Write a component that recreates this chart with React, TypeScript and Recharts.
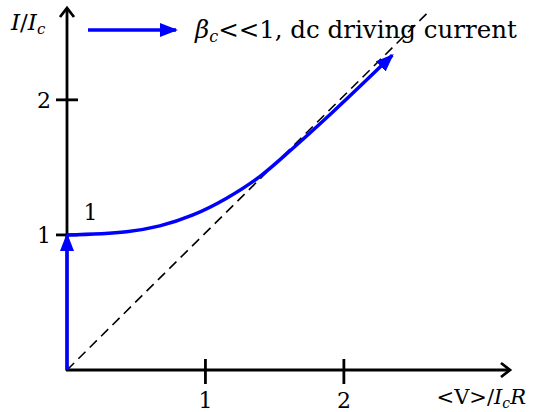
import React from "react";
import { LineChart, Line, XAxis, YAxis, ReferenceLine, ReferenceDot, Legend } from "recharts";

const W = 534;
const H = 412;
const BLUE = "#0000FF";
const FONT = "DejaVu Serif";

// reduced voltage <V>/IcR and reduced current I/Ic on the running branch
const runV = [0, 0.43, 0.67, 0.91, 1.15, 1.39, 1.63, 1.92, 2.35];
const runI = [1.0, 1.024, 1.067, 1.148, 1.27, 1.43, 1.64, 1.91, 2.33];
// supercurrent branch (zero voltage)
const zeroV = [0, 0];
const zeroI = [0, 1];
// ohmic asymptote I = V/R
const ohmV = [0, 2.62];
const ohmI = [0, 2.66];

const xTicks = [1, 2];
const yTicks = [1, 2];
const xMax = 3.2;
const yMax = 2.68;

const toRows = (vs: number[], is: number[]) => vs.map((v, k) => ({ v, i: is[k] }));
const runData = toRows(runV, runI);
const zeroData = toRows(zeroV, zeroI);
const ohmData = toRows(ohmV, ohmI);

const XAxisShape = (p: any) => {
  const y = p.y1;
  const x0 = Math.min(p.x1, p.x2);
  const x1 = Math.max(p.x1, p.x2);
  return (
    <g>
      <line x1={x0 - 1} y1={y} x2={x1} y2={y} stroke="#000" strokeWidth={2.8} markerEnd="url(#chev)" />
      <text x={526} y={404} fontFamily={FONT} fontSize={21} textAnchor="end" fill="#000">
        {"<V>/"}
        <tspan fontStyle="italic">I</tspan>
        <tspan fontStyle="italic" fontSize={14} dy={4}>c</tspan>
        <tspan fontStyle="italic" dy={-4}>R</tspan>
      </text>
    </g>
  );
};

const YAxisShape = (p: any) => {
  const x = p.x1;
  const yb = Math.max(p.y1, p.y2);
  const yt = Math.min(p.y1, p.y2);
  return (
    <g>
      <line x1={x} y1={yb + 1} x2={x} y2={yt} stroke="#000" strokeWidth={2.8} markerEnd="url(#chev)" />
      <text x={11} y={30} fontFamily={FONT} fontSize={23} fill="#000">
        <tspan fontStyle="italic">I</tspan>/<tspan fontStyle="italic">I</tspan>
        <tspan fontStyle="italic" fontSize={15} dy={4}>c</tspan>
      </text>
    </g>
  );
};

const xTickShape = (t: number) => (p: any) => {
  const x = p.x1;
  const yb = Math.max(p.y1, p.y2);
  return (
    <g>
      <line x1={x} y1={yb - 11} x2={x} y2={yb + 14} stroke="#000" strokeWidth={2.8} />
      <text x={x} y={408} fontFamily={FONT} fontSize={22} textAnchor="middle" fill="#000">
        {t}
      </text>
    </g>
  );
};

const yTickShape = (t: number) => (p: any) => {
  const y = p.y1;
  const xl = Math.min(p.x1, p.x2);
  return (
    <g>
      <line x1={xl - 11} y1={y} x2={xl + 11} y2={y} stroke="#000" strokeWidth={2.8} />
      <text x={51} y={y + 8} fontFamily={FONT} fontSize={22} textAnchor="end" fill="#000">
        {t}
      </text>
    </g>
  );
};

const StartLabel = (p: any) => (
  <text x={p.cx} y={p.cy + 8} fontFamily={FONT} fontSize={22} textAnchor="middle" fill="#000">
    1
  </text>
);

const LegendBox = () => (
  <svg width={W} height={50} style={{ display: "block" }}>
    <line x1={88} y1={30} x2={176} y2={30} stroke={BLUE} strokeWidth={3.5} markerEnd="url(#head)" />
    <text x={195} y={38} fontFamily={FONT} fontSize={24.5} fill="#000">
      <tspan fontStyle="italic">β</tspan>
      <tspan fontStyle="italic" fontSize={16} dy={4}>c</tspan>
      <tspan dy={-4}>{"<<1, dc driving current"}</tspan>
    </text>
  </svg>
);

export default function App() {
  return (
    <div style={{ position: "absolute", left: 0, top: 0, width: W, height: H, background: "#fff" }}>
      <svg width={0} height={0} style={{ position: "absolute" }}>
        <defs>
          <marker id="head" markerUnits="userSpaceOnUse" viewBox="0 0 18 14" markerWidth={18} markerHeight={14}
            refX={16} refY={7} orient="auto">
            <path d="M0,0 L18,7 L0,14 Z" fill={BLUE} />
          </marker>
          <marker id="chev" markerUnits="userSpaceOnUse" viewBox="0 0 14 16" markerWidth={14} markerHeight={16}
            refX={11} refY={8} orient="auto" overflow="visible">
            <path d="M2,1 L11,8 L2,15" fill="none" stroke="#000" strokeWidth={2.8} />
          </marker>
        </defs>
      </svg>
      <LineChart width={W} height={H} margin={{ top: 8, right: 24, bottom: 42, left: 67 }}>
        <XAxis type="number" dataKey="v" domain={[0, xMax]} hide />
        <YAxis type="number" dataKey="i" domain={[0, yMax]} hide />
        <ReferenceLine y={0} ifOverflow="visible" shape={XAxisShape} />
        <ReferenceLine x={0} ifOverflow="visible" shape={YAxisShape} />
        {xTicks.map((t) => (
          <ReferenceLine key={`xt${t}`} x={t} ifOverflow="visible" shape={xTickShape(t)} />
        ))}
        {yTicks.map((t) => (
          <ReferenceLine key={`yt${t}`} y={t} ifOverflow="visible" shape={yTickShape(t)} />
        ))}
        <Line data={ohmData} dataKey="i" type="linear" stroke="#000" strokeWidth={1.6}
          strokeDasharray="10 6" dot={false} isAnimationActive={false} legendType="none" />
        <Line data={zeroData} dataKey="i" type="linear" stroke={BLUE} strokeWidth={3.5}
          dot={false} isAnimationActive={false} markerEnd="url(#head)" legendType="none" />
        <Line data={runData} dataKey="i" type="monotone" stroke={BLUE} strokeWidth={3.5}
          dot={false} isAnimationActive={false} markerEnd="url(#head)" name="dc driving current" />
        <ReferenceDot x={0.17} y={1.17} ifOverflow="visible" shape={StartLabel} />
        <Legend layout="vertical" align="center" verticalAlign="middle" content={LegendBox}
          wrapperStyle={{ left: 0, top: 0, width: W, height: 50 }} />
      </LineChart>
    </div>
  );
}
